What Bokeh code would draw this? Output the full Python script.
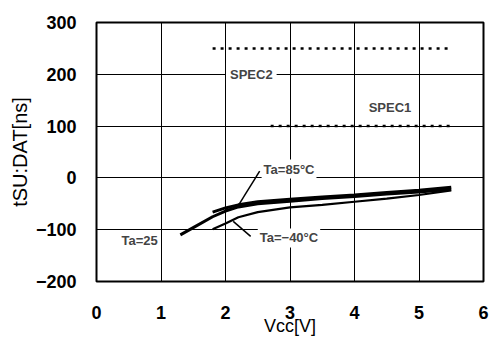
from bokeh.plotting import figure
from bokeh.models import Label, FixedTicker
from bokeh.embed import file_html
from bokeh.resources import INLINE

# ---- data ----
vcc_85 = [1.8, 2.0, 2.2, 2.5, 3.0, 3.5, 4.0, 4.5, 5.0, 5.5]
t_85 = [-66, -58, -52, -46, -41, -37, -33, -28, -24, -18]

vcc_25 = [1.3, 1.5, 1.8, 2.0, 2.2, 2.5, 3.0, 3.5, 4.0, 4.5, 5.0, 5.5]
t_25 = [-110, -96, -75, -64, -56, -50, -45, -40, -36, -31, -27, -22]

vcc_m40 = [1.8, 2.0, 2.2, 2.5, 3.0, 3.5, 4.0, 4.5, 5.0, 5.5]
t_m40 = [-99, -88, -76, -66, -57, -52, -46, -40, -33, -24]

spec_names = ["SPEC2", "SPEC1"]
spec_values = [250, 100]
spec_x0 = [1.8, 2.7]
spec_x1 = [5.5, 5.5]

x_ticks = [0, 1, 2, 3, 4, 5, 6]
y_ticks = [-200, -100, 0, 100, 200, 300]
y_tick_labels = {-200: "\u2212200", -100: "\u2212100", 0: "0", 100: "100", 200: "200", 300: "300"}

# text annotations
spec_label_x = [2.4, 4.55]
spec_label_y = [200, 135]
ta_labels = ["Ta=85\u00b0C", "Ta=25", "Ta=\u221240\u00b0C"]
ta_label_x = [2.56, 0.98, 2.5]
ta_label_y = [17, -120, -116]
ta_label_align = ["left", "right", "left"]
leader_x0 = [2.53, 2.39]
leader_y0 = [13, -113]
leader_x1 = [2.2, 2.12]
leader_y1 = [-53, -84]

FONT = "Liberation Sans"

p = figure(width=489, height=338, x_range=(0, 6), y_range=(-200, 300),
           output_backend="svg", toolbar_location=None,
           min_border_left=96, min_border_right=6, min_border_top=22, min_border_bottom=54)

p.background_fill_color = "white"
p.border_fill_color = "white"
p.outline_line_color = "black"
p.outline_line_width = 2

p.xaxis.ticker = FixedTicker(ticks=x_ticks)
p.yaxis.ticker = FixedTicker(ticks=y_ticks)
p.yaxis.major_label_overrides = y_tick_labels

for ax in (p.xaxis[0], p.yaxis[0]):
    ax.axis_line_color = None
    ax.major_tick_line_color = None
    ax.minor_tick_line_color = None
    ax.major_label_text_font = FONT
    ax.major_label_text_font_style = "bold"
    ax.major_label_text_font_size = "18px"
    ax.major_label_text_color = "black"
    ax.axis_label_text_font = FONT
    ax.axis_label_text_font_style = "normal"
    ax.axis_label_text_color = "black"

p.xaxis.axis_label = "Vcc[V]"
p.yaxis.axis_label = "tSU:DAT[ns]"
p.xaxis.axis_label_text_font_size = "18px"
p.yaxis.axis_label_text_font_size = "20px"
p.xaxis.major_label_standoff = 18
p.xaxis.axis_label_standoff = -6
p.yaxis.major_label_standoff = 14
p.yaxis.axis_label_standoff = 2

p.xgrid.grid_line_color = "black"
p.ygrid.grid_line_color = "black"
p.xgrid.grid_line_width = 1
p.ygrid.grid_line_width = 1

# spec lines
for name, v, a, b in zip(spec_names, spec_values, spec_x0, spec_x1):
    p.line([a, b], [v, v], line_color="black", line_width=2.5, line_dash="3 5")

# curves
p.line(vcc_m40, t_m40, line_color="black", line_width=2.2)
p.line(vcc_25, t_25, line_color="black", line_width=3)
p.line(vcc_85, t_85, line_color="black", line_width=3)

# leader lines
p.segment(leader_x0, leader_y0, leader_x1, leader_y1, line_color="black", line_width=1.5)

for txt, x, y in zip(spec_names, spec_label_x, spec_label_y):
    p.add_layout(Label(x=x, y=y, text=txt, text_align="center", text_baseline="middle",
                       text_font=FONT, text_font_size="13px", text_font_style="bold",
                       background_fill_color="white", padding=4))

for txt, x, y, al in zip(ta_labels, ta_label_x, ta_label_y, ta_label_align):
    p.add_layout(Label(x=x, y=y, text=txt, text_align=al, text_baseline="middle",
                       text_font=FONT, text_font_size="13px", text_font_style="bold",
                       background_fill_color="white", padding=2))

open("out.html", "w").write(file_html(p, INLINE))
